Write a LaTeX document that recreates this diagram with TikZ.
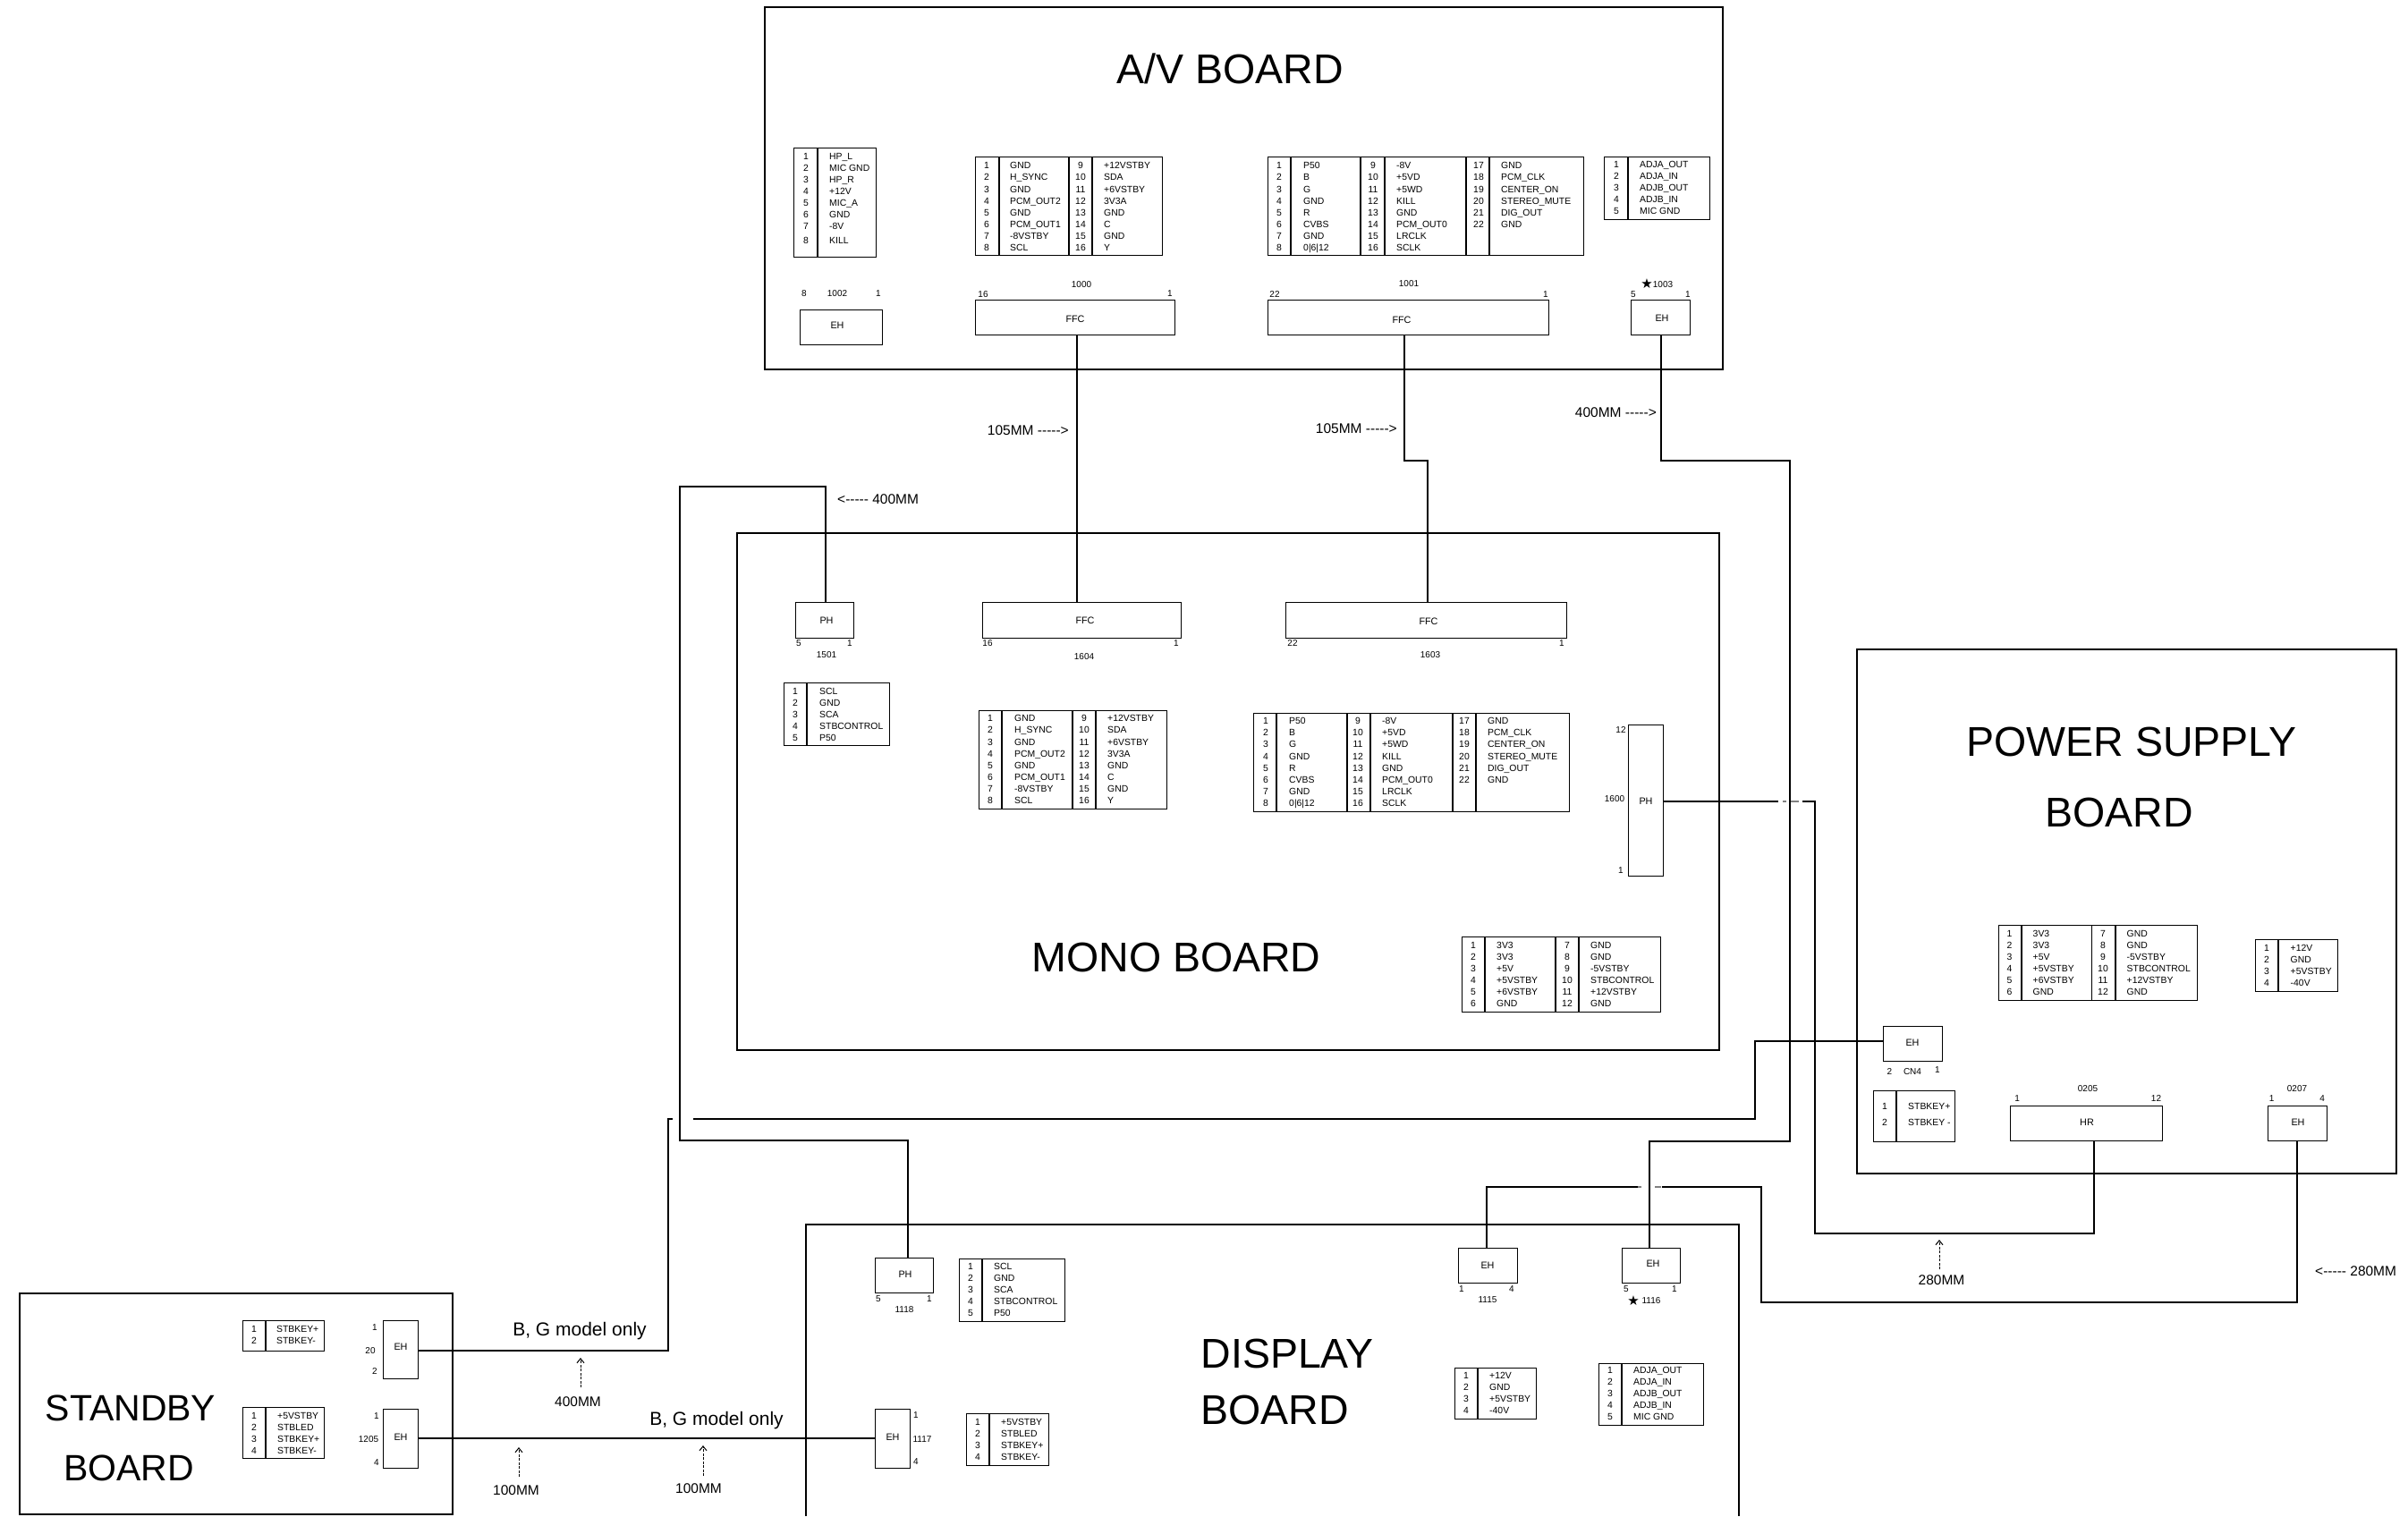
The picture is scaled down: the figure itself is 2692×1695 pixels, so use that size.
\documentclass[tikz,border=0pt]{standalone}
\usepackage{fontspec}
\setmainfont{Liberation Sans}
\newfontfamily\starfont{DejaVu Sans}
\usetikzlibrary{arrows.meta}

\newcommand{\rmark}{-{}-{}-{}-{}-{}>}
\newcommand{\lmark}{<-{}-{}-{}-{}-}

\tikzset{
  board/.style={draw, line width=2pt},
  wire/.style={draw, line width=1.8pt},
  hop/.style={draw, line width=1.2pt, gray},
  conn/.style={draw, line width=1pt, inner sep=0pt, outer sep=0pt},
  frameline/.style={line width=1pt},
  divline/.style={line width=1.4pt},
  pinnum/.style={inner sep=0pt, font=\fontsize{10.4}{12}\selectfont, text height=7.5pt, text depth=0pt},
  pintext/.style={pinnum, anchor=west},
  conntext/.style={inner sep=0pt, font=\fontsize{10.8}{12}\selectfont, text height=7.8pt, text depth=0pt},
  pinlabel/.style={inner sep=0pt, font=\fontsize{10}{12}\selectfont, text height=7.2pt, text depth=0pt},
  mmlabel/.style={inner sep=0pt, font=\fontsize{15.5}{18}\selectfont, text height=11pt, text depth=0pt},
  modellabel/.style={inner sep=0pt, font=\fontsize{21}{24}\selectfont, text height=15pt, text depth=0pt},
  boardname/.style={inner sep=0pt, font=\fontsize{46.5}{50}\selectfont, text height=33pt, text depth=0pt},
  mmarrow/.style={line width=1pt, dashed, dash pattern=on 3pt off 1.5pt, -{Straight Barb[length=5pt,width=8pt]}},
}

% one column of a pin table: name, number x, text x, first y, row step, number/text
\newcommand{\pincol}[6]{%
  \foreach \n/\s [count=\k from 0] in {#6} {
    \node[pinnum] (#1-\n) at (#2,{#4+\k*#5}) {\n};
    \node[pintext] (#1-\n-txt) at (#3,{#4+\k*#5}) {\s};
  }
}
% frame of a pin table with its dividers
\newcommand{\pinframe}[5]{%
  \draw[frameline] (#1,#2) rectangle (#3,#4);
  \foreach \d in {#5}
    \draw[divline] (\d,#2) -- (\d,#4);
}

\begin{document}
\begin{tikzpicture}[x=1pt, y=-1pt]
  \useasboundingbox (0,0) rectangle (2692,1695);

  % Draw boards
  \draw[board] (855,8) rectangle (1926,413);
  \draw[board] (824,596) rectangle (1922,1174);
  \draw[board] (2076,726) rectangle (2678.5,1312);
  \draw[board] (901,1695) -- (901,1369) -- (1944,1369) -- (1944,1695);
  \draw[board] (22,1446) rectangle (506,1693);

  \node[boardname] (avname) at (1375,77) {A/V BOARD};
  \node[boardname] (mononame) at (1315,1070) {MONO BOARD};
  \node[boardname] (powername) at (2383,829) {POWER SUPPLY};
  \node[boardname] (powername2) at (2369,908) {BOARD};
  \node[boardname] (displayname) at (1439,1513) {DISPLAY};
  \node[boardname] (displayname2) at (1425,1576) {BOARD};
  \node[boardname, font=\fontsize{41}{44}\selectfont, text height=29pt] (standbyname) at (146,1574) {STANDBY};
  \node[boardname, font=\fontsize{41}{44}\selectfont, text height=29pt] (standbyname2) at (144,1641) {BOARD};

  % Draw connectors
  \node[conn, minimum width=92pt, minimum height=39pt] (eh1002) at (940,365.5) {};
  \node[conn, minimum width=223pt, minimum height=39pt] (ffc1000) at (1201.5,354.5) {};
  \node[conn, minimum width=314pt, minimum height=39pt] (ffc1001) at (1574,354.5) {};
  \node[conn, minimum width=66pt, minimum height=39pt] (eh1003) at (1856,354.5) {};

  \node[conn, minimum width=65pt, minimum height=40pt] (ph1501) at (921.5,693) {};
  \node[conn, minimum width=222pt, minimum height=40pt] (ffc1604) at (1209,693) {};
  \node[conn, minimum width=314pt, minimum height=40pt] (ffc1603) at (1594,693) {};
  \node[conn, minimum width=39pt, minimum height=169pt] (ph1600) at (1839.5,894.5) {};

  \node[conn, minimum width=66pt, minimum height=39pt] (ehcn4) at (2138.5,1166.5) {};
  \node[conn, minimum width=170pt, minimum height=39pt] (hr0205) at (2332,1255.5) {};
  \node[conn, minimum width=66pt, minimum height=39pt] (eh0207) at (2568.5,1255.5) {};

  \node[conn, minimum width=65pt, minimum height=39pt] (ph1118) at (1010.5,1425.5) {};
  \node[conn, minimum width=39pt, minimum height=66pt] (eh1117) at (997.5,1608) {};
  \node[conn, minimum width=66pt, minimum height=39pt] (eh1115) at (1663,1414.5) {};
  \node[conn, minimum width=65pt, minimum height=39pt] (eh1116) at (1845.5,1414.5) {};

  \node[conn, minimum width=39pt, minimum height=65pt] (eh20) at (447.5,1508.5) {};
  \node[conn, minimum width=39pt, minimum height=66pt] (eh1205) at (447.5,1608) {};

  % Connector types
  \foreach \nm/\x/\y/\txt in {c1002/936/364/EH, c1000/1202/357/FFC, c1001/1567/358/FFC, c1003/1858/356/EH,
      c1501/924/694/PH, c1604/1213/694/FFC, c1603/1597/695/FFC, c1600/1840/896/PH,
      ccn4/2138/1166/EH, c0205/2333/1255/HR, c0207/2569/1255/EH,
      c1118/1012/1425/PH, c1117/998/1607/EH, c1115/1663/1415/EH, c1116/1848/1413/EH,
      c20/448/1506/EH, c1205/448/1607/EH}
    \node[conntext] (\nm) at (\x,\y) {\txt};

  % Pin and part numbers
  \foreach \nm/\x/\y/\txt in {a8/899/328/8, a1002/936/328/1002, a1/982/328/1,
      b16/1099/329/16, b1000/1209/318/1000, b1/1308/328/1,
      c22/1425/329/22, cc1001/1575/317/1001, c1/1728/329/1,
      d1003/1859/318/1003, d5/1826/329/5, d1/1887/329/1,
      e5/893/719/5, e1/950/719/1, e1501/924/732/1501,
      f16/1104/719/16, f1/1315/719/1, f1604/1212/734/1604,
      g22/1445/719/22, g1/1746/719/1, g1603/1599/732/1603,
      h12/1812/816/12, h1600/1805/893/1600, h1/1812/973/1,
      i2/2112.5/1198/2, icn/2138/1198/CN4, i1/2166/1196/1,
      j0205/2334/1217/0205, j1/2255/1228/1, j12/2410.5/1228/12,
      k0207/2568/1217/0207, k1/2539.5/1228/1, k4/2596/1228/4,
      l5/982/1452/5, l1/1039/1452/1, l1118/1011/1464/1118,
      m1/1024/1582/1, m1117/1031/1609/1117, m4/1024/1634/4,
      n1/1634/1441/1, n4/1690/1441/4, n1115/1663/1453/1115,
      o5/1818/1441/5, o1/1872/1441/1, o1116/1846/1454/1116,
      p1/419/1484/1, p20/414/1510/20, p2/419/1533/2,
      q1/421/1583/1, q1205/412/1609/1205, q4/421/1635/4}
    \node[pinlabel] (\nm) at (\x,\y) {\txt};
  \node[inner sep=0pt, font=\starfont\fontsize{15}{16}\selectfont] (star1003) at (1841,317) {★};
  \node[inner sep=0pt, font=\starfont\fontsize{15}{16}\selectfont] (star1116) at (1826,1454) {★};

  % A/V board tables
  \pinframe{887}{165}{979}{287}{914}
  \pincol{t1002}{901}{927}{175}{13}{1/HP\_L, 2/MIC GND, 3/HP\_R, 4/+12V, 5/MIC\_A, 6/GND, 7/-8V}
  \pincol{t1002b}{901}{927}{269}{13}{8/KILL}

  \pinframe{1090}{175}{1299}{285}{1117,1195,1221}
  \pincol{t1000}{1103}{1129}{185}{13.14}{1/GND, 2/H\_SYNC, 3/GND, 4/PCM\_OUT2, 5/GND, 6/PCM\_OUT1, 7/-8VSTBY, 8/SCL}
  \pincol{t1000}{1208}{1234}{185}{13.14}{9/+12VSTBY, 10/SDA, 11/+6VSTBY, 12/3V3A, 13/GND, 14/C, 15/GND, 16/Y}

  \pinframe{1417}{175}{1770}{285}{1443,1521,1548,1639,1665}
  \pincol{t1001}{1430}{1457}{185}{13.14}{1/P50, 2/B, 3/G, 4/GND, 5/R, 6/CVBS, 7/GND, 8/0|6|12}
  \pincol{t1001}{1535}{1561}{185}{13.14}{9/-8V, 10/+5VD, 11/+5WD, 12/KILL, 13/GND, 14/PCM\_OUT0, 15/LRCLK, 16/SCLK}
  \pincol{t1001}{1653}{1678}{185}{13.14}{17/GND, 18/PCM\_CLK, 19/CENTER\_ON, 20/STEREO\_MUTE, 21/DIG\_OUT, 22/GND}

  \pinframe{1793}{175}{1911}{245}{1820}
  \pincol{t1003}{1807}{1833}{184}{13}{1/ADJA\_OUT, 2/ADJA\_IN, 3/ADJB\_OUT, 4/ADJB\_IN, 5/MIC GND}

  % Mono board tables
  \pinframe{876}{763}{994}{833}{902}
  \pincol{t1501}{889}{916}{773}{13}{1/SCL, 2/GND, 3/SCA, 4/STBCONTROL, 5/P50}

  \pinframe{1094}{794}{1304}{904}{1120,1199,1225}
  \pincol{t1604}{1107}{1134}{803}{13.14}{1/GND, 2/H\_SYNC, 3/GND, 4/PCM\_OUT2, 5/GND, 6/PCM\_OUT1, 7/-8VSTBY, 8/SCL}
  \pincol{t1604}{1212}{1238}{803}{13.14}{9/+12VSTBY, 10/SDA, 11/+6VSTBY, 12/3V3A, 13/GND, 14/C, 15/GND, 16/Y}

  \pinframe{1401}{797}{1754}{907}{1427,1506,1532,1624,1650}
  \pincol{t1603}{1415}{1441}{806}{13.1}{1/P50, 2/B, 3/G, 4/GND, 5/R, 6/CVBS, 7/GND, 8/0|6|12}
  \pincol{t1603}{1518}{1545}{806}{13.1}{9/-8V, 10/+5VD, 11/+5WD, 12/KILL, 13/GND, 14/PCM\_OUT0, 15/LRCLK, 16/SCLK}
  \pincol{t1603}{1637}{1663}{806}{13.1}{17/GND, 18/PCM\_CLK, 19/CENTER\_ON, 20/STEREO\_MUTE, 21/DIG\_OUT, 22/GND}

  \pinframe{1634}{1047}{1856}{1131}{1660,1739,1765}
  \pincol{t1600}{1647}{1673}{1057}{13}{1/3V3, 2/3V3, 3/+5V, 4/+5VSTBY, 5/+6VSTBY, 6/GND}
  \pincol{t1600}{1752}{1778}{1057}{13}{7/GND, 8/GND, 9/-5VSTBY, 10/STBCONTROL, 11/+12VSTBY, 12/GND}

  % Power supply board tables
  \pinframe{2234}{1034}{2456}{1118}{2260,2338.5,2365}
  \pincol{t0205}{2246.5}{2272.5}{1044}{13}{1/3V3, 2/3V3, 3/+5V, 4/+5VSTBY, 5/+6VSTBY, 6/GND}
  \pincol{t0205}{2351}{2377.5}{1044}{13}{7/GND, 8/GND, 9/-5VSTBY, 10/STBCONTROL, 11/+12VSTBY, 12/GND}

  \pinframe{2521.5}{1050}{2613}{1108}{2547}
  \pincol{t0207}{2534}{2560.5}{1060}{13}{1/+12V, 2/GND, 3/+5VSTBY, 4/-40V}

  \pinframe{2094}{1219}{2185.5}{1276}{2120}
  \pincol{tcn4}{2107}{2133}{1237}{18}{1/STBKEY+, 2/STBKEY -}

  % Display board tables
  \pinframe{1072}{1407}{1190}{1477}{1098}
  \pincol{t1118}{1085}{1111}{1416}{13}{1/SCL, 2/GND, 3/SCA, 4/STBCONTROL, 5/P50}

  \pinframe{1080}{1580}{1172}{1638}{1106}
  \pincol{t1117}{1093}{1119}{1590}{13}{1/+5VSTBY, 2/STBLED, 3/STBKEY+, 4/STBKEY-}

  \pinframe{1626}{1529}{1717}{1586}{1652}
  \pincol{t1115}{1639}{1665}{1538}{13}{1/+12V, 2/GND, 3/+5VSTBY, 4/-40V}

  \pinframe{1787}{1524}{1904}{1593}{1813}
  \pincol{t1116}{1800}{1826}{1532}{13}{1/ADJA\_OUT, 2/ADJA\_IN, 3/ADJB\_OUT, 4/ADJB\_IN, 5/MIC GND}

  % Standby board tables
  \pinframe{271}{1476}{362}{1510}{297}
  \pincol{t20}{284}{309}{1486}{13}{1/STBKEY+, 2/STBKEY-}

  \pinframe{271}{1573}{362}{1630}{297}
  \pincol{t1205}{284}{310}{1583}{12.8}{1/+5VSTBY, 2/STBLED, 3/STBKEY+, 4/STBKEY-}

  % Bends and gaps of the cables
  \coordinate (bendA) at (2001,515);
  \coordinate (bendB) at (2001,1276);
  \coordinate (bendC) at (760,544);
  \coordinate (bendD) at (760,1275);
  \coordinate (bendE) at (1962,1251);
  \coordinate (bendF) at (2029,896);
  \coordinate (bendG) at (2029,1379);
  \coordinate (bendH) at (1969,1456);
  \coordinate (bendI) at (1969,1327);
  \coordinate (hopA) at (747,1251);
  \coordinate (hopB) at (752,1251);
  \coordinate (hopC) at (775,1251);
  \coordinate (hopD) at (1988,896);
  \coordinate (hopE) at (1993,896);
  \coordinate (hopF) at (1997,896);
  \coordinate (hopG) at (2002,896);
  \coordinate (hopH) at (2011,896);
  \coordinate (hopI) at (2015,896);
  \coordinate (hopJ) at (1858,1327);
  \coordinate (hopK) at (1857,1327);
  \coordinate (hopL) at (1850,1327);
  \coordinate (hopM) at (1835,1327);
  \coordinate (hopN) at (1831,1327);

  % Draw cables
  \draw[wire] ([xshift=2.5pt]ffc1000.south) -- ([xshift=-5pt]ffc1604.north);
  \draw[wire] ([xshift=-4pt]ffc1001.south) -- ++(0,141) -| ([xshift=2pt]ffc1603.north);
  \draw[wire] ([xshift=1pt]eh1003.south) |- (bendA) -- (bendB) -| ([xshift=-1.5pt]eh1116.north);
  \draw[wire] ([xshift=1.5pt]ph1501.north) |- (bendC) -- (bendD) -| ([xshift=4.5pt]ph1118.north);
  \draw[wire] ([yshift=-1.5pt]eh20.east) -| (hopA) -- (hopB);
  \draw[wire] (hopC) -- (bendE) |- ([yshift=2.5pt]ehcn4.west);
  \draw[wire] ([yshift=-1.5pt]ph1600.east) -- (hopD);
  \draw[hop] (hopE) -- (hopF);
  \draw[hop] (hopG) -- (hopH);
  \draw[wire] (hopI) -- (bendF) -- (bendG) -| ([xshift=9pt]hr0205.south);
  \draw[wire] ([xshift=-0.5pt]eh0207.south) |- (bendH) -- (bendI) -- (hopJ);
  \draw[hop] (hopK) -- (hopL);
  \draw[hop] (hopM) -- (hopN);
  \draw[wire] (hopN) -| ([xshift=-1pt]eh1115.north);
  \draw[wire] (eh1205) -- (eh1117);

  % Cable lengths
  \node[mmlabel, anchor=east] (len105a) at (1195,481) {105MM \rmark};
  \node[mmlabel, anchor=east] (len105b) at (1562,479) {105MM \rmark};
  \node[mmlabel, anchor=east] (len400a) at (1852,461) {400MM \rmark};
  \node[mmlabel, anchor=west] (len400b) at (936,558) {\lmark{} 400MM};
  \node[mmlabel, anchor=west] (len280a) at (2588,1421) {\lmark{} 280MM};
  \node[mmlabel] (len280b) at (2170.5,1431) {280MM};
  \node[mmlabel] (len400c) at (646,1567) {400MM};
  \node[mmlabel] (len100a) at (577,1666) {100MM};
  \node[mmlabel] (len100b) at (781,1664) {100MM};
  \node[modellabel] (modela) at (648,1486) {B, G model only};
  \node[modellabel] (modelb) at (801,1586) {B, G model only};

  \coordinate (tip280) at (2168,1386);
  \coordinate (tip400) at (649,1518);
  \coordinate (tip100a) at (580,1618);
  \coordinate (tip100b) at (786,1616);
  \draw[mmarrow] (2168,1419) -- (tip280);
  \draw[mmarrow] (649,1551) -- (tip400);
  \draw[mmarrow] (580,1651) -- (tip100a);
  \draw[mmarrow] (786,1650) -- (tip100b);
\end{tikzpicture}
\end{document}
